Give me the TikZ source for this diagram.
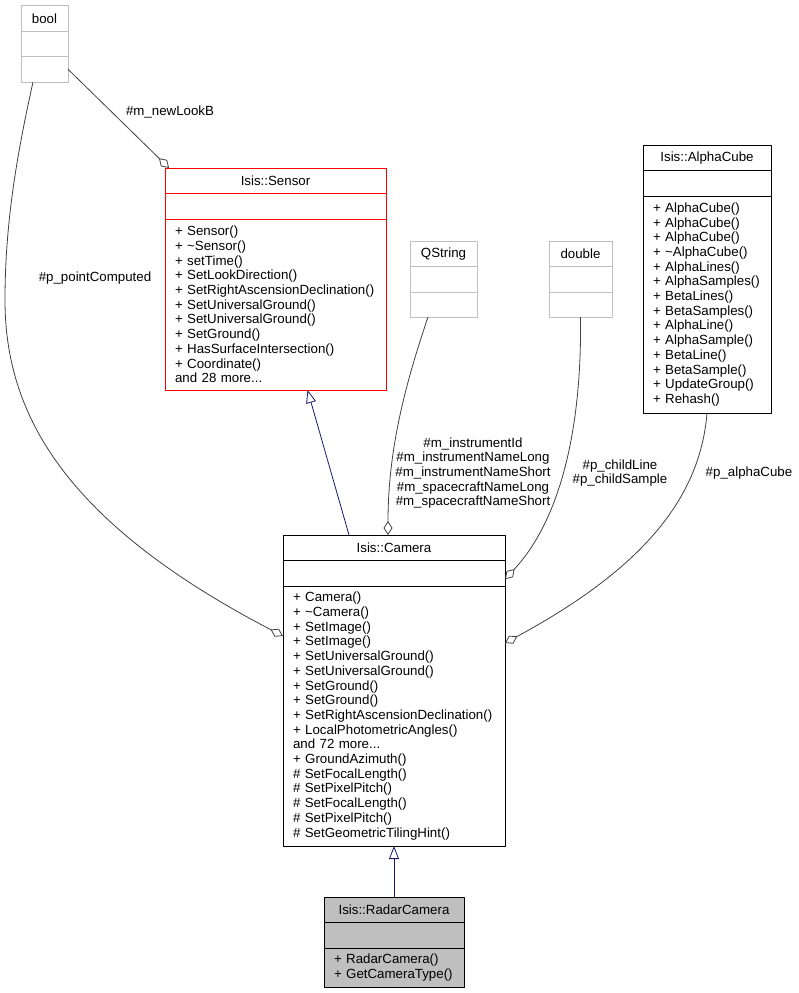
\documentclass[tikz,border=0pt]{standalone}
\usepackage{fontspec}
\setmainfont{Liberation Sans}
\usetikzlibrary{arrows.meta,positioning}
\definecolor{edgegray}{HTML}{404040}
\definecolor{navy}{HTML}{191970}
\definecolor{boxgray}{HTML}{BFBFBF}
\hyphenpenalty=10000
\begin{document}
\begin{tikzpicture}[x=1pt,y=-1pt,line join=round,
 font=\fontsize{13.3}{14.7}\selectfont,
 head/.style={draw=#1, line width=1pt, inner sep=0pt, outer sep=0pt, minimum height=25.5pt, anchor=north west},
 attr/.style={draw=#1, line width=1pt, inner sep=0pt, outer sep=0pt, minimum height=25.5pt},
 body/.style={draw=#1, line width=1pt, inner xsep=10pt, inner ysep=0pt, outer sep=0pt, align=left},
 agg/.style={draw=edgegray, line width=0.8pt, -{Diamond[open, length=14pt, width=9pt]}},
 inh/.style={draw=navy, line width=0.8pt, -{Triangle[open, length=13pt, width=10pt]}},
 lbl/.style={align=center, inner sep=0pt}]
 \useasboundingbox (0,0) rectangle (798,993);
 % bool
 \node[head=boxgray, minimum width=47pt] (boolT) at (21,5.5) {bool};
 \node[attr=boxgray, minimum width=47pt, below=0pt of boolT] (boolA) {};
 \node[body=boxgray, text width=27pt, minimum height=25.5pt, below=0pt of boolA] (boolM) {};
 % Isis::Sensor
 \node[head=red, minimum width=221pt] (sensorT) at (165,168) {Isis::Sensor};
 \node[attr=red, minimum width=221pt, below=0pt of sensorT] (sensorA) {};
 \node[body=red, text width=201pt, minimum height=171pt, below=0pt of sensorA] (sensorM) {+ Sensor()\\
 + \textasciitilde Sensor()\\
 + setTime()\\
 + SetLookDirection()\\
 + SetRightAscensionDeclination()\\
 + SetUniversalGround()\\
 + SetUniversalGround()\\
 + SetGround()\\
 + HasSurfaceIntersection()\\
 + Coordinate()\\
 and 28 more...};
 % QString
 \node[head=boxgray, minimum width=67pt] (qstrT) at (410,241) {QString};
 \node[attr=boxgray, minimum width=67pt, below=0pt of qstrT] (qstrA) {};
 \node[body=boxgray, text width=47pt, minimum height=25pt, below=0pt of qstrA] (qstrM) {};
 % double
 \node[head=boxgray, minimum width=63pt] (dblT) at (549,241) {double};
 \node[attr=boxgray, minimum width=63pt, below=0pt of dblT] (dblA) {};
 \node[body=boxgray, text width=43pt, minimum height=25pt, below=0pt of dblA] (dblM) {};
 % Isis::AlphaCube
 \node[head=black, minimum width=128pt] (alphaT) at (643,145) {Isis::AlphaCube};
 \node[attr=black, minimum width=128pt, below=0pt of alphaT] (alphaA) {};
 \node[body=black, text width=108pt, minimum height=217pt, below=0pt of alphaA] (alphaM) {+ AlphaCube()\\
 + AlphaCube()\\
 + AlphaCube()\\
 + \textasciitilde AlphaCube()\\
 + AlphaLines()\\
 + AlphaSamples()\\
 + BetaLines()\\
 + BetaSamples()\\
 + AlphaLine()\\
 + AlphaSample()\\
 + BetaLine()\\
 + BetaSample()\\
 + UpdateGroup()\\
 + Rehash()};
 % Isis::Camera
 \node[head=black, minimum width=222pt] (cameraT) at (283,535) {Isis::Camera};
 \node[attr=black, minimum width=222pt, below=0pt of cameraT] (cameraA) {};
 \node[body=black, text width=202pt, minimum height=260pt, below=0pt of cameraA] (cameraM) {+ Camera()\\
 + \textasciitilde Camera()\\
 + SetImage()\\
 + SetImage()\\
 + SetUniversalGround()\\
 + SetUniversalGround()\\
 + SetGround()\\
 + SetGround()\\
 + SetRightAscensionDeclination()\\
 + LocalPhotometricAngles()\\
 and 72 more...\\
 + GroundAzimuth()\\
 \# SetFocalLength()\\
 \# SetPixelPitch()\\
 \# SetFocalLength()\\
 \# SetPixelPitch()\\
 \# SetGeometricTilingHint()};
 % Isis::RadarCamera
 \node[head=black, fill=boxgray, minimum width=140pt] (radarT) at (324,897) {Isis::RadarCamera};
 \node[attr=black, fill=boxgray, minimum width=140pt, below=0pt of radarT] (radarA) {};
 \node[body=black, fill=boxgray, text width=120pt, minimum height=39pt, below=0pt of radarA] (radarM) {+ RadarCamera()\\
 + GetCameraType()};
 % edges
 \draw[agg] (boolM.east) -- ([xshift=4pt]sensorT.north west);
 \draw[agg] ([xshift=12pt]boolM.south west) .. controls (18,150) and (5,220) .. (5,300)
  .. controls (5,410) and (60,520) .. ([yshift=-50pt]cameraM.north west);
 \draw[inh] ([xshift=-45pt]cameraT.north) -- ([xshift=32pt]sensorM.south);
 \draw[agg] ([xshift=-15.5pt]qstrM.south) .. controls (405,385) and (388,450) .. ([xshift=-6pt]cameraT.north);
 \draw[agg] (dblM.south) .. controls (582,430) and (560,520) .. ([yshift=-6pt]cameraA.east);
 \draw[agg] (alphaM.south) .. controls (700,500) and (640,570) .. ([yshift=-57pt]cameraM.north east);
 \draw[inh] (radarT.north) -- (cameraM.south);
 % labels
 \node[lbl] (lookB) at (170,112) {\#m\_newLookB};
 \node[lbl] (pointC) at (95,278) {\#p\_pointComputed};
 \node[lbl] (instr) at (473,473) {\#m\_instrumentId\\ \#m\_instrumentNameLong\\ \#m\_instrumentNameShort\\ \#m\_spacecraftNameLong\\ \#m\_spacecraftNameShort};
 \node[lbl] (child) at (620,473) {\#p\_childLine\\ \#p\_childSample};
 \node[lbl] (alphaL) at (749,473) {\#p\_alphaCube};
\end{tikzpicture}
\end{document}
